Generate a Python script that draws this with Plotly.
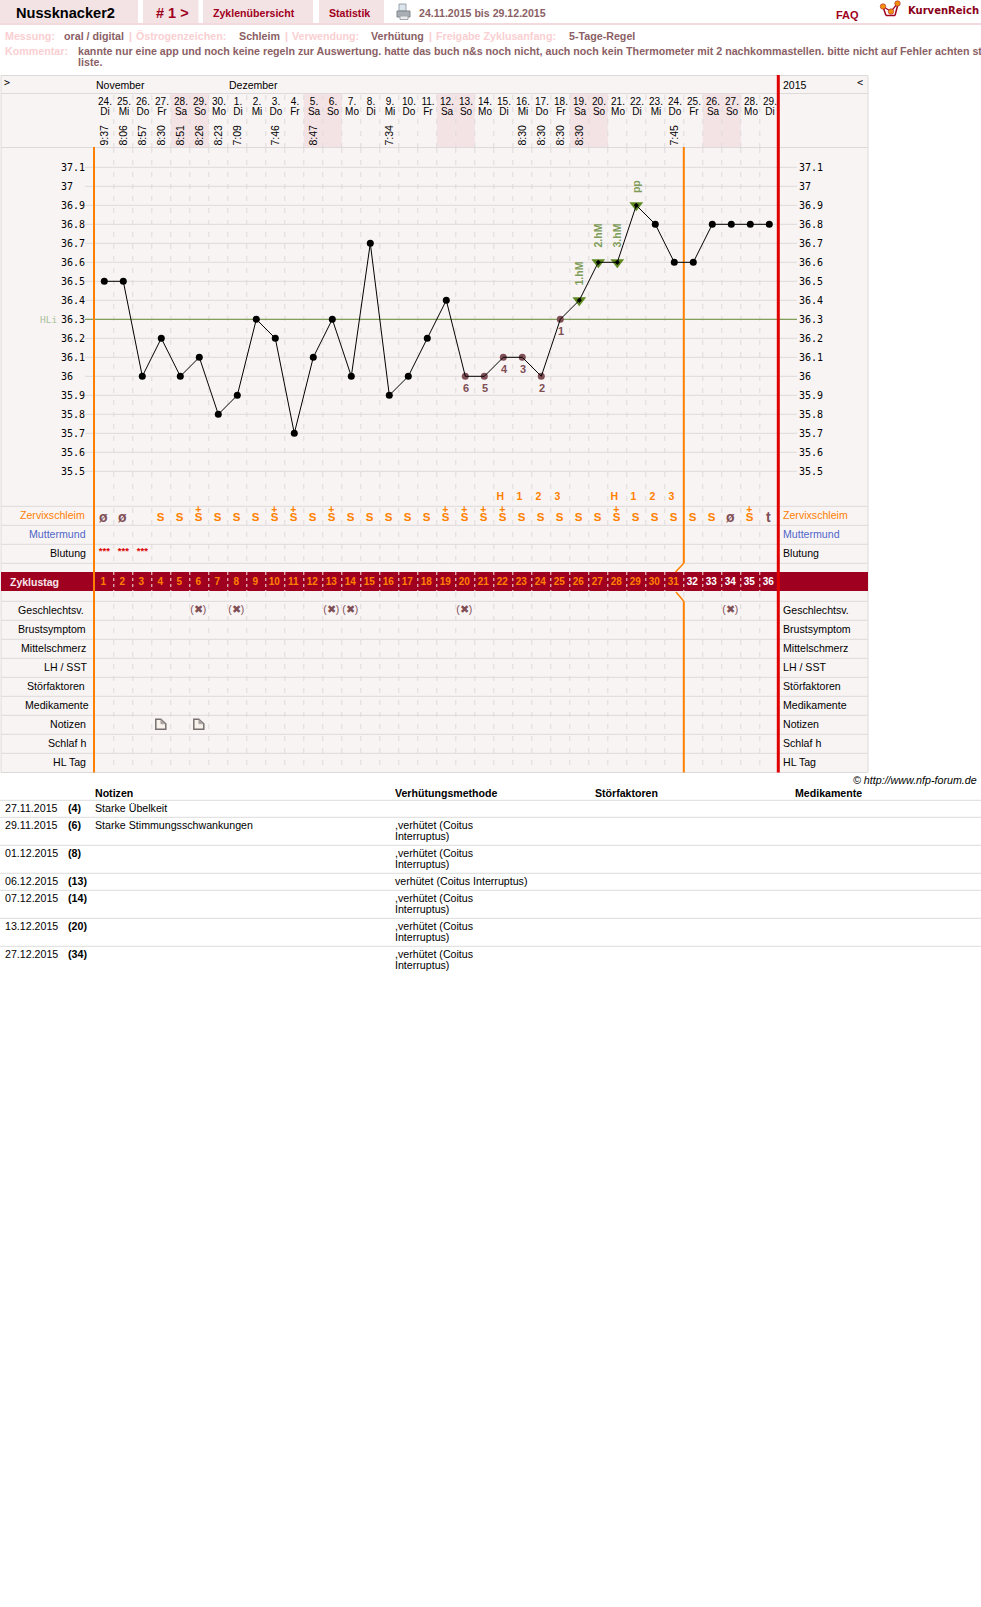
import plotly.graph_objects as go

W, H = 981, 1607

# ---------- data ----------
day_numbers = ["24.","25.","26.","27.","28.","29.","30.","1.","2.","3.","4.","5.","6.","7.","8.","9.","10.","11.","12.","13.","14.","15.","16.","17.","18.","19.","20.","21.","22.","23.","24.","25.","26.","27.","28.","29."]
weekdays = ["Di","Mi","Do","Fr","Sa","So","Mo","Di","Mi","Do","Fr","Sa","So","Mo","Di","Mi","Do","Fr","Sa","So","Mo","Di","Mi","Do","Fr","Sa","So","Mo","Di","Mi","Do","Fr","Sa","So","Mo","Di"]
times = ["9:37","8:06","8:57","8:30","8:51","8:26","8:23","7:09","","7:46","","8:47","","","","7:34","","","","","","","8:30","8:30","8:30","8:30","","","","","7:45","","","","",""]
temps = [36.5,36.5,36.0,36.2,36.0,36.1,35.8,35.9,36.3,36.2,35.7,36.1,36.3,36.0,36.7,35.9,36.0,36.2,36.4,36.0,36.0,36.1,36.1,36.0,36.3,36.4,36.6,36.6,36.9,36.8,36.6,36.6,36.8,36.8,36.8,36.8]
cycle_days = list(range(1, 37))
temp_ticks = [35.5,35.6,35.7,35.8,35.9,36,36.1,36.2,36.3,36.4,36.5,36.6,36.7,36.8,36.9,37,37.1]
low_days = [20,21,22,23,24,25]
low_labels = ["6","5","4","3","2","1"]
high_days = [26,27,28,29]
high_labels = ["1.hM","2.hM","3.hM","pp"]
hl_temp = 36.3
mucus = ["ø","ø","","S","S","S+","S","S","S","S+","S+","S","S+","S","S","S","S","S","S+","S+","S+","S+","S","S","S","S","S","S+","S","S","S","S","S","ø","S+","t"]
count_days = [22,23,24,25,28,29,30,31]
count_labels = ["H","1","2","3","H","1","2","3"]
bleeding_days = [1,2,3]
sex_days = [6,8,13,14,20,34]
note_days = [4,6]
weekend_days = [5,6,12,13,19,20,26,27,33,34]
row_names = ["Zervixschleim","Muttermund","Blutung",None,None,None,"Geschlechtsv.","Brustsymptom","Mittelschmerz","LH / SST","Störfaktoren","Medikamente","Notizen","Schlaf h","HL Tag"]
table_headers = ["Notizen","Verhütungsmethode","Störfaktoren","Medikamente"]
table_dates = ["27.11.2015","29.11.2015","01.12.2015","06.12.2015","07.12.2015","13.12.2015","27.12.2015"]
table_days = ["(4)","(6)","(8)","(13)","(14)","(20)","(34)"]
table_notes = ["Starke Übelkeit","Starke Stimmungsschwankungen","","","","",""]
table_method = ["",",verhütet (Coitus<br>Interruptus)",",verhütet (Coitus<br>Interruptus)","verhütet (Coitus Interruptus)",",verhütet (Coitus<br>Interruptus)",",verhütet (Coitus<br>Interruptus)",",verhütet (Coitus<br>Interruptus)"]

# ---------- scales ----------
DAY0_PX, DAY_W = 104.3, 19.0
T36_PX, T_STEP = 376.3, 19.0
def dx(px): return (px - DAY0_PX) / DAY_W + 1
def ty(py): return 36 + (T36_PX - py) / (T_STEP * 10)
def shift(days, px): return [d + px / DAY_W for d in days]

ARIAL = "Liberation Sans"
MONO = "DejaVu Sans Mono"
BG = "#F9F4F4"; PINK = "#F3E3E5"; GRID = "#DEDADA"; MAROON = "#A00020"
ORANGE = "#FF8000"; RED = "#E00000"; GREEN = "#6B8E3A"; BROWN = "#8B5F65"; LIGHT = "#F9CFD2"; DOT = "#7F4F55"

shapes, ann, traces = [], [], []

def rect(x0, y0, x1, y1, fill, line=None, layer="below"):
    shapes.append(dict(type="rect", xref="x", yref="y2", x0=dx(x0), x1=dx(x1), y0=y0, y1=y1,
                       fillcolor=fill, line=dict(width=1 if line else 0, color=line or fill), layer=layer))
def seg(x0, y0, x1, y1, color, width=1, dash=None, layer="below"):
    shapes.append(dict(type="line", xref="x", yref="y2", x0=dx(x0), x1=dx(x1), y0=y0, y1=y1,
                       line=dict(color=color, width=width, dash=dash or "solid"), layer=layer))
def text(px, py, s, size=11, color="#000", bold=False, anchor="left", family=ARIAL, angle=0, italic=False):
    if bold: s = f"<b>{s}</b>"
    if italic: s = f"<i>{s}</i>"
    ann.append(dict(xref="x", yref="y2", x=dx(px), y=py, text=s, showarrow=False, xanchor=anchor, yanchor="middle",
                    font=dict(family=family, size=size, color=color), textangle=angle, align="left", borderpad=0, borderwidth=0))
def text_trace(xs, ys, labels, size=11, color="#000", bold=False, family=ARIAL, axis="y2"):
    traces.append(go.Scatter(x=xs, y=ys, mode="text", text=[f"<b>{t}</b>" if bold else t for t in labels],
                             textposition="middle center", yaxis=axis, hoverinfo="skip",
                             textfont=dict(family=family, size=size, color=color), showlegend=False))

# ---------- page header ----------
for x0, x1 in [(0,138),(143,198.5),(203,313),(319,384)]:
    rect(x0, 0, x1, 23.5, PINK)
rect(0, 23, W, 25, "#F3DADD")
text(16, 13, "Nussknacker2", 14.6, "#000", True)
text(156, 13, "# 1 &gt;", 14.5, MAROON, True)
text(213, 12.5, "Zyklenübersicht", 10.6, MAROON, True)
text(329, 12.5, "Statistik", 10.6, MAROON, True)
text(419, 12.5, "24.11.2015 bis 29.12.2015", 10.6, BROWN, True)
text(836, 14.5, "FAQ", 11, MAROON, True)
text(908, 10.5, "KurvenReich", 10, "#8A0018", True, family="DejaVu Sans")
# printer icon
rect(399, 4, 406, 11, "#DCE4EC", "#9AA4AE")
rect(397, 11, 410, 17, "#A8AEB4", "#7E868C")
rect(400, 16, 408, 19.5, "#ECECEC", "#A0A6AC")
# logo
seg(883, 7, 886, 15.5, MAROON, 1.5); seg(886, 15.5, 895, 15.5, MAROON, 1.5); seg(895, 15.5, 898, 4, MAROON, 1.5)
seg(883, 6.5, 891, 11.5, MAROON, 1.2); seg(891, 11.5, 897.5, 3.5, MAROON, 1.2)
traces.append(go.Scatter(x=[dx(883), dx(891), dx(897.5)], y=[6.5, 11.5, 3.5], yaxis="y2", mode="markers", hoverinfo="skip",
                         marker=dict(color="#F09010", size=5.5, line=dict(color=MAROON, width=0.5)), showlegend=False))

for px, s, c in [(5,"Messung:",LIGHT),(64,"oral / digital",BROWN),(129,"|",LIGHT),(136,"Östrogenzeichen:",LIGHT),
                 (239,"Schleim",BROWN),(285,"|",LIGHT),(292,"Verwendung:",LIGHT),(371,"Verhütung",BROWN),
                 (429,"|",LIGHT),(436,"Freigabe Zyklusanfang:",LIGHT),(569,"5-Tage-Regel",BROWN)]:
    text(px, 36, s, 10.7, c, True)
text(5, 50.7, "Kommentar:", 10.7, LIGHT, True)
text(78, 50.7, "kannte nur eine app und noch keine regeln zur Auswertung. hatte das buch n&amp;s noch nicht, auch noch kein Thermometer mit 2 nachkommastellen. bitte nicht auf Fehler achten st", 10.68, BROWN, True)
text(78, 62, "liste.", 10.7, BROWN, True)

# ---------- chart frame ----------
rect(1, 75.5, 868, 772.5, BG, "#DDD9D9")
for d in weekend_days:
    rect(DAY0_PX + DAY_W*(d-1.5), 94, DAY0_PX + DAY_W*(d-0.5), 147, PINK)
seg(1, 93.5, 868, 93.5, GRID)
seg(1, 147.5, 868, 147.5, GRID)
# row rules
for py in [506.3,525.3,544.3,563.3,601.3,620.3,639.3,658.3,677.3,696.3,715.3,734.3,753.3]:
    seg(1, py, 868, py, GRID)
# temperature grid lines
for t in temp_ticks:
    shapes.append(dict(type="line", xref="x", yref="y", x0=dx(85), x1=dx(797), y0=t, y1=t,
                       line=dict(color=GRID, width=1), layer="below"))
# day column rules
for d in cycle_days:
    bx = DAY0_PX + DAY_W*(d-0.5)
    if bx > 775: continue
    for a, b in [(95,147),(148,563),(592,772)]:
        seg(bx, a, bx, b, GRID, 1, "5px,7px")
# band
rect(1, 572, 868, 591, MAROON)
for d in cycle_days:
    bx = DAY0_PX + DAY_W*(d-0.5)
    if bx > 775: continue
    seg(bx, 572, bx, 591, "#F5E8EA", 1, "3px,3px")
# HL line
shapes.append(dict(type="line", xref="x", yref="y", x0=dx(85), x1=dx(797), y0=hl_temp, y1=hl_temp,
                   line=dict(color=GREEN, width=1), layer="below"))
# vertical main rules
seg(94, 147, 94, 772.5, ORANGE, 2)
seg(778.3, 75, 778.3, 772.5, RED, 3)
coverline_px = DAY0_PX + DAY_W*30.5
seg(coverline_px, 147, coverline_px, 563.3, ORANGE, 2)
seg(coverline_px, 563.3, 675.5, 572, ORANGE, 1.5)
seg(676, 592, coverline_px, 601.3, ORANGE, 1.5)
seg(coverline_px, 601.3, coverline_px, 772.5, ORANGE, 2)

# ---------- header of chart ----------
text(3.5, 82.5, "&gt;", 10, "#000", family=MONO)
text(856.5, 82.5, "&lt;", 10, "#000", family=MONO, anchor="left")
text(96, 85, "November", 10.5)
text(229, 85, "Dezember", 10.5)
text(783, 85, "2015", 10.5)
text_trace(shift(cycle_days, 0.7), [102.8]*36, day_numbers, 10)
text_trace(shift(cycle_days, 0.7), [112.3]*36, weekdays, 10)
for d, tm in zip(cycle_days, times):
    if tm:
        text(DAY0_PX + DAY_W*(d-1), 135.2, tm, 10.5, anchor="center", angle=-90)

# ---------- temperature labels ----------
for t in temp_ticks:
    lab = f"{t:g}"
    ann.append(dict(xref="x", yref="y", x=dx(58.5), y=t, text=lab, showarrow=False, xanchor="left", yanchor="middle",
                    font=dict(family=MONO, size=10, color="#000")))
    ann.append(dict(xref="x", yref="y", x=dx(797), y=t, text=lab, showarrow=False, xanchor="left", yanchor="middle",
                    font=dict(family=MONO, size=10, color="#000")))
ann.append(dict(xref="x", yref="y", x=dx(38), y=hl_temp, text="HLi", showarrow=False, xanchor="left", yanchor="middle",
                font=dict(family=MONO, size=9.5, color="#A9BF9A")))

# ---------- temperature curve ----------
low_t = [temps[d-1] for d in low_days]
high_t = [temps[d-1] for d in high_days]
plain_days = [d for d in cycle_days if d not in low_days and d not in high_days]
traces.append(go.Scatter(x=high_days, y=high_t, mode="markers", hoverinfo="skip", showlegend=False,
                         marker=dict(symbol="triangle-down", size=12, color="#5F8A22")))
traces.append(go.Scatter(x=plain_days, y=[temps[d-1] for d in plain_days], mode="markers", hoverinfo="skip", showlegend=False,
                         marker=dict(color="#000", size=7)))
traces.append(go.Scatter(x=low_days, y=low_t, mode="markers", hoverinfo="skip", showlegend=False,
                         marker=dict(color=DOT, size=7)))
traces.append(go.Scatter(x=cycle_days, y=temps, mode="lines", hoverinfo="skip", showlegend=False,
                         line=dict(color="#000", width=1)))
traces.append(go.Scatter(x=high_days, y=high_t, mode="markers", hoverinfo="skip", showlegend=False,
                         marker=dict(symbol="diamond", size=4, color="#000")))
for d, t, s in zip(low_days, low_t, low_labels):
    ann.append(dict(xref="x", yref="y", x=d, y=t, xshift=1, yshift=-11.5, text=f"<b>{s}</b>", showarrow=False,
                    font=dict(family=ARIAL, size=11, color=DOT)))
for d, t, s in zip(high_days, high_t, high_labels):
    ann.append(dict(xref="x", yref="y", x=d, y=t, xshift=-0.5, yshift=26.5 if s != "pp" else 19, text=f"<b>{s}</b>", showarrow=False, textangle=-90,
                    font=dict(family=ARIAL, size=10.6, color="#7E9C5A")))

# ---------- rows ----------
ROW0, ROW_H = 515.0, 19.0
for i, nm in enumerate(row_names):
    if not nm: continue
    py = ROW0 + ROW_H*i
    if i >= 6: py = 610.3 + ROW_H*(i-6)
    color = ORANGE if i == 0 else "#4F66C8" if i == 1 else "#000"
    right = {"Geschlechtsv.":83.5,"LH / SST":87.5,"Medikamente":89,"Störfaktoren":85,"Zervixschleim":85}.get(nm, 86)
    text(right, py, nm, 10.6, color, anchor="right")
    text(783, py, nm, 10.6, color)

mucus_y = 518.3
s_days = [d for d, m in zip(cycle_days, mucus) if m.startswith("S")]
plus_days = [d for d, m in zip(cycle_days, mucus) if m == "S+"]
other_days = [d for d, m in zip(cycle_days, mucus) if m in ("ø","t")]
other_lab = [m for m in mucus if m in ("ø","t")]
text_trace(shift(s_days, -0.7), [mucus_y]*len(s_days), ["S"]*len(s_days), 11.5, ORANGE, True)
text_trace(shift(plus_days, -1), [510.0]*len(plus_days), ["+"]*len(plus_days), 10.5, ORANGE, True)
text_trace(shift(other_days, -1), [mucus_y]*len(other_days), other_lab, 14, DOT, True)
text_trace(shift(count_days, -3), [497.6]*len(count_days), count_labels, 10.5, ORANGE, True)
text_trace(bleeding_days, [551.3]*3, ["***"]*3, 9.5, "#DD0000", True)
text_trace(shift(sex_days, -1), [610.3]*len(sex_days), ["(✖)"]*len(sex_days), 10.5, DOT, False)

# band text
text(10, 582, "Zyklustag", 10.5, "#F6E8EA", True)
cover_split = 31
text_trace(shift(cycle_days[:cover_split], -1), [582]*cover_split, [str(d) for d in cycle_days[:cover_split]], 10, ORANGE, True)
text_trace(shift(cycle_days[cover_split:], -1), [582]*(36-cover_split), [str(d) for d in cycle_days[cover_split:]], 10, "#FFFFFF", True)

# note icons
for d in note_days:
    shapes.append(dict(type="path", xref="x", yref="y2", xsizemode="pixel", ysizemode="pixel",
                       xanchor=d, yanchor=724.3, path="M -5.5 -5 L 4.5 -5 L 4.5 0.5 L -0.5 5 L -5.5 5 Z",
                       line=dict(color="#77706F", width=1.5), fillcolor="#F7F3EC", layer="above"))
    shapes.append(dict(type="path", xref="x", yref="y2", xsizemode="pixel", ysizemode="pixel",
                       xanchor=d, yanchor=724.3, path="M 4 0.5 L -0.5 0.5 L -0.5 5 Z",
                       line=dict(color="#9A9392", width=0.5), fillcolor="#A8A2A0", layer="above"))

# ---------- table ----------
text(977, 780, "© http://www.nfp-forum.de", 10.7, anchor="right", italic=True)
for px, s in zip([95,395,595,795], table_headers):
    text(px, 793.3, s, 10.6, bold=True)
for py in [800.3,817.3,845.3,873.3,890.3,918.3,946.3]:
    seg(0, py, W, py, "#DDDDDD")
row_tops = [800.3,817.3,845.3,873.3,890.3,918.3,946.3]
for top, dt, dd, nt, me in zip(row_tops, table_dates, table_days, table_notes, table_method):
    py = top + 7.6
    text(5, py, dt, 10.65)
    text(68, py, dd, 10.65, bold=True)
    if nt: text(95, py, nt, 10.65)
    if me:
        for j, part in enumerate(me.split("<br>")):
            text(395, py + 11*j, part, 10.65)

layout = dict(width=W, height=H, margin=dict(l=0, r=0, t=0, b=0), paper_bgcolor="#FFFFFF", plot_bgcolor="#FFFFFF",
              showlegend=False, shapes=shapes, annotations=ann,
              xaxis=dict(range=[dx(0), dx(W)], domain=[0,1], visible=False, fixedrange=True),
              yaxis=dict(range=[ty(H), ty(0)], domain=[0,1], visible=False, fixedrange=True),
              yaxis2=dict(range=[H, 0], domain=[0,1], overlaying="y", visible=False, fixedrange=True))
fig = go.Figure(data=traces, layout=layout)
fig.write_html("out.html", config=dict(displayModeBar=False, staticPlot=True),
               post_script="document.body.style.margin='0';document.body.style.overflow='hidden';")
